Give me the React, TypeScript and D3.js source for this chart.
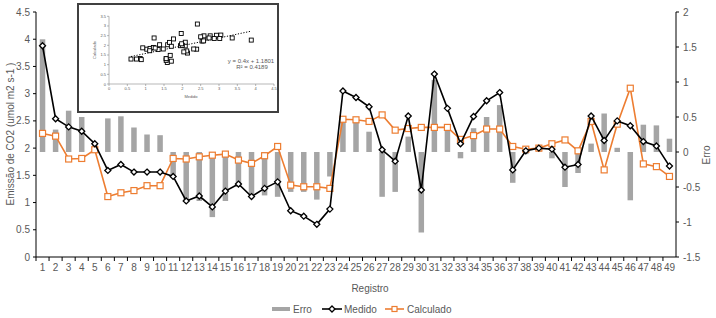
import React from "react";
import * as d3 from "d3";

const categories = Array.from({ length: 49 }, (_, i) => String(i + 1));
const medido = [3.88, 2.54, 2.39, 2.31, 2.08, 1.59, 1.70, 1.56, 1.56, 1.56, 1.48, 1.03, 1.12, 0.92, 1.21, 1.34, 1.11, 1.26, 1.38, 0.85, 0.75, 0.60, 0.88, 3.05, 2.93, 2.76, 1.97, 1.76, 2.59, 1.23, 3.36, 2.73, 2.08, 2.58, 2.87, 3.02, 1.60, 1.95, 2.00, 1.98, 1.65, 1.70, 2.59, 2.14, 2.50, 2.41, 2.12, 2.04, 1.67];
const calculado = [2.27, 2.22, 1.80, 1.81, 1.97, 1.11, 1.18, 1.22, 1.31, 1.31, 1.81, 1.80, 1.84, 1.87, 1.89, 1.78, 1.72, 1.86, 2.03, 1.32, 1.29, 1.29, 1.26, 2.53, 2.52, 2.49, 2.61, 2.33, 2.36, 2.38, 2.38, 2.38, 2.16, 2.23, 2.35, 2.35, 2.03, 1.98, 2.00, 2.08, 2.15, 1.95, 2.49, 1.60, 2.44, 3.10, 1.71, 1.66, 1.48];
const erro = [1.61, 0.32, 0.59, 0.50, 0.11, 0.48, 0.51, 0.35, 0.25, 0.24, -0.35, -0.71, -0.70, -0.93, -0.70, -0.50, -0.62, -0.62, -0.64, -0.57, -0.57, -0.68, -0.35, 0.48, 0.43, 0.29, -0.64, -0.57, 0.22, -1.15, 1.03, 0.34, -0.09, 0.34, 0.50, 0.67, -0.44, -0.03, 0.01, -0.09, -0.50, -0.30, 0.12, 0.55, 0.06, -0.69, 0.39, 0.38, 0.19];
const leftTicks = [0, 0.5, 1, 1.5, 2, 2.5, 3, 3.5, 4, 4.5];
const rightTicks = [-1.5, -1, -0.5, 0, 0.5, 1, 1.5, 2];
const insetXTicks = [0, 0.5, 1, 1.5, 2, 2.5, 3, 3.5, 4, 4.5];
const insetYTicks = [0, 0.5, 1, 1.5, 2, 2.5, 3, 3.5];
const trendSlope = 0.4;
const trendIntercept = 1.1801;
const eqText = "y = 0.4x + 1.1801";
const r2Text = "R² = 0.4189";

const FONT = "'Liberation Sans', Arial, sans-serif";
const GRAY = "#595959";
const ORANGE = "#ED7D31";
const BAR = "#A5A5A5";

const fmt = (v: number) => String(v);

function Diamond({ x, y, r = 3 }: { x: number; y: number; r?: number }) {
  return (
    <path
      d={`M${x},${y - r}L${x + r},${y}L${x},${y + r}L${x - r},${y}Z`}
      fill="#fff"
      stroke="#000"
      strokeWidth={1.3}
    />
  );
}

function Square({ x, y, s = 6 }: { x: number; y: number; s?: number }) {
  return <rect x={x - s / 2} y={y - s / 2} width={s} height={s} fill="#fff" stroke={ORANGE} strokeWidth={1.2} />;
}

export default function App() {
  const W = 716, H = 318;
  const x = d3.scaleBand<string>().domain(categories).range([36, 676]);
  const bw = x.bandwidth();
  const cx = (i: number) => (x(categories[i]) as number) + bw / 2;
  const yL = d3.scaleLinear().domain([0, 4.5]).range([257, 12]);
  const yR = d3.scaleLinear().domain([-1.5, 2]).range([257, 12]);

  const lineM = d3.line<number>().x((_, i) => cx(i)).y((d) => yL(d));
  const barW = 5.5;

  // inset
  const ix = d3.scaleLinear().domain([0, 4.5]).range([109, 274]);
  const iy = d3.scaleLinear().domain([0, 3.5]).range([84, 16.3]);
  const mMin = d3.min(medido) as number;
  const mMax = d3.max(medido) as number;

  return (
    <svg width={W} height={H} style={{ position: "absolute", left: 0, top: 0, fontFamily: FONT }}>
      <rect width={W} height={H} fill="#fff" />
      {/* bars */}
      {erro.map((e, i) => (
        <rect
          key={"b" + i}
          x={cx(i) - barW / 2}
          y={Math.min(yR(e), yR(0))}
          width={barW}
          height={Math.abs(yR(e) - yR(0))}
          fill={BAR}
        />
      ))}
      {/* calculado line */}
      <path d={lineM(calculado) as string} fill="none" stroke={ORANGE} strokeWidth={1.6} />
      {calculado.map((v, i) => (
        <Square key={"c" + i} x={cx(i)} y={yL(v)} />
      ))}
      {/* medido line */}
      <path d={lineM(medido) as string} fill="none" stroke="#000" strokeWidth={1.6} />
      {medido.map((v, i) => (
        <Diamond key={"m" + i} x={cx(i)} y={yL(v)} />
      ))}

      {/* axes */}
      <line x1={36} x2={36} y1={12} y2={257} stroke="#000" />
      {leftTicks.map((t) => (
        <g key={"lt" + t}>
          <line x1={33} x2={36} y1={yL(t)} y2={yL(t)} stroke="#000" />
          <text x={30} y={yL(t) + 3.5} textAnchor="end" fontSize={10} fill={GRAY}>
            {fmt(t)}
          </text>
        </g>
      ))}
      <line x1={676} x2={676} y1={12} y2={257} stroke="#000" />
      {rightTicks.map((t) => (
        <g key={"rt" + t}>
          <line x1={676} x2={679} y1={yR(t)} y2={yR(t)} stroke="#000" />
          <text x={683} y={yR(t) + 3.5} textAnchor="start" fontSize={10} fill={GRAY}>
            {fmt(t)}
          </text>
        </g>
      ))}
      <line x1={36} x2={676} y1={257} y2={257} stroke="#000" />
      {categories.map((c, i) => (
        <g key={"xt" + c}>
          <line x1={x(c) as number} x2={x(c) as number} y1={257} y2={261} stroke="#000" />
          <text x={cx(i)} y={271} textAnchor="middle" fontSize={10} fill={GRAY}>
            {c}
          </text>
        </g>
      ))}
      <text x={370} y={292} textAnchor="middle" fontSize={10} fill={GRAY}>
        Registro
      </text>
      <text transform="translate(14,134) rotate(-90)" textAnchor="middle" fontSize={10} fill={GRAY}>
        Emissão de CO2 (umol m2 s-1 )
      </text>
      <text transform="translate(710,155) rotate(-90)" textAnchor="middle" fontSize={10} fill={GRAY}>
        Erro
      </text>

      {/* legend */}
      <rect x={272} y={307} width={18} height={4} fill={BAR} />
      <text x={293} y={312.5} fontSize={10} fill={GRAY}>Erro</text>
      <line x1={322} x2={342} y1={309} y2={309} stroke="#000" strokeWidth={1.6} />
      <Diamond x={332} y={309} />
      <text x={344} y={312.5} fontSize={10} fill={GRAY}>Medido</text>
      <line x1={385} x2={404} y1={309} y2={309} stroke={ORANGE} strokeWidth={1.6} />
      <Square x={394.5} y={309} s={5} />
      <text x={407} y={312.5} fontSize={10} fill={GRAY}>Calculado</text>

      {/* inset */}
      <rect x={78} y={4} width={200} height={108} fill="#fff" stroke="#404040" strokeWidth={2} />
      <line x1={ix(0)} x2={ix(0)} y1={iy(3.5)} y2={iy(0)} stroke="#888" strokeWidth={0.6} />
      <line x1={ix(0)} x2={ix(4.5)} y1={iy(0)} y2={iy(0)} stroke="#888" strokeWidth={0.6} />
      {insetYTicks.map((t) => (
        <g key={"iy" + t}>
          <line x1={ix(0) - 2} x2={ix(0)} y1={iy(t)} y2={iy(t)} stroke="#888" strokeWidth={0.6} />
          <text x={ix(0) - 3} y={iy(t) + 1.5} textAnchor="end" fontSize={4} fill={GRAY}>
            {fmt(t)}
          </text>
        </g>
      ))}
      {insetXTicks.map((t) => (
        <g key={"ix" + t}>
          <line x1={ix(t)} x2={ix(t)} y1={iy(0)} y2={iy(0) + 2} stroke="#888" strokeWidth={0.6} />
          <text x={ix(t)} y={iy(0) + 6} textAnchor="middle" fontSize={4} fill={GRAY}>
            {fmt(t)}
          </text>
        </g>
      ))}
      <text x={191} y={98} textAnchor="middle" fontSize={4} fill={GRAY}>Medido</text>
      <text transform="translate(96,50) rotate(-90)" textAnchor="middle" fontSize={4} fill={GRAY}>
        Calculado
      </text>
      <line
        x1={ix(mMin)}
        x2={ix(mMax)}
        y1={iy(trendSlope * mMin + trendIntercept)}
        y2={iy(trendSlope * mMax + trendIntercept)}
        stroke="#000"
        strokeWidth={1}
        strokeDasharray="1.2,1.6"
      />
      {medido.map((m, i) => (
        <rect
          key={"s" + i}
          x={ix(m) - 2}
          y={iy(calculado[i]) - 2}
          width={4}
          height={4}
          fill="#fff"
          stroke="#000"
          strokeWidth={0.9}
        />
      ))}
      <text x={251} y={63} textAnchor="middle" fontSize={6} fill={GRAY}>{eqText}</text>
      <text x={252} y={69} textAnchor="middle" fontSize={6} fill={GRAY}>{r2Text}</text>
    </svg>
  );
}
